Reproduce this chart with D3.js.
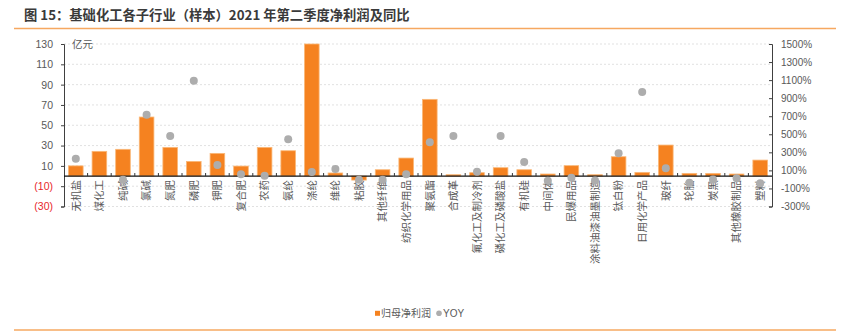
<!DOCTYPE html>
<html><head><meta charset="utf-8">
<script src="https://cdn.jsdelivr.net/npm/d3@7"></script>
<style>
body{margin:0;background:#fff;}
svg{display:block;font-family:"Noto Sans CJK SC","Liberation Sans",Arial,sans-serif;}
</style></head>
<body>
<svg id="chart" width="849" height="334"></svg>
<script>
const categories = ["无机盐","煤化工","纯碱","氯碱","氮肥","磷肥","钾肥","复合肥","农药","氨纶","涤纶","维纶","粘胶","其他纤维","纺织化学用品","聚氨酯","合成革","氟化工及制冷剂","磷化工及磷酸盐","有机硅","中间体","民爆用品","涂料油漆油墨制造","钛白粉","日用化学产品","玻纤","轮胎","炭黑","其他橡胶制品","塑料"];
const profit = [10, 24.3, 26.3, 58.1, 28.2, 14.4, 22.3, 9.8, 28.2, 24.9, 130, 3, -4, 6.2, 17.7, 75.5, 1.3, 3.3, 8.2, 6.2, 2, 10.2, 1.3, 19, 3.6, 30.5, 2.6, 2.6, 2, 15.7];
const yoy = [230, null, -5, 716, 480, 1093, 159, 56, 41, 444, 82, 115, -5, -5, 56, 413, 480, 86, 480, 193, -14, 19, -12, 289, 968, 123, -36, 0, 12, -43];
const leftTicks = [-30, -10, 10, 30, 50, 70, 90, 110, 130];
const rightTicks = [-300, -100, 100, 300, 500, 700, 900, 1100, 1300, 1500];

const svg = d3.select("#chart");
const L = 64, R = 772, T = 44, B = 206.5;
const x = d3.scaleBand().domain(categories).range([L, R]).paddingInner(0.38).paddingOuter(0.19);
const xb = d3.scaleBand().domain(categories).range([L, R]);
const yL = d3.scaleLinear().domain([-30, 130]).range([B, T]);
const yR = d3.scaleLinear().domain([-300, 1500]).range([B, T]);

// title
svg.append("text").attr("x", 24).attr("y", 20).attr("font-size", 13.3).attr("font-weight", "bold")
  .attr("fill", "#3a3a3a").text("图 15：基础化工各子行业（样本）2021 年第二季度净利润及同比");
svg.append("line").attr("x1", 14).attr("x2", 836).attr("y1", 28.5).attr("y2", 28.5)
  .attr("stroke", "#F6A860").attr("stroke-width", 1.3);
svg.append("line").attr("x1", 14).attr("x2", 836).attr("y1", 330).attr("y2", 330)
  .attr("stroke", "#F6A860").attr("stroke-width", 1.3);

// gridlines
svg.append("g").selectAll("line").data(leftTicks).join("line")
  .attr("x1", L).attr("x2", R).attr("y1", d => yL(d)).attr("y2", d => yL(d))
  .attr("stroke", "#d9d9d9").attr("stroke-dasharray", "2,2").attr("stroke-width", 0.8);

// left axis
const fmtL = d => d < 0 ? "(" + Math.abs(d) + ")" : String(d);
const gl = svg.append("g").attr("transform", `translate(${L},0)`)
  .call(d3.axisLeft(yL).tickValues(leftTicks).tickSize(3).tickPadding(8).tickFormat(fmtL));
gl.select(".domain").attr("stroke", "#404040");
gl.selectAll(".tick line").attr("stroke", "#404040");
gl.selectAll(".tick text").attr("font-size", 10.5).attr("fill", d => d < 0 ? "#e8262a" : "#595959")
  .attr("font-family", "'Liberation Sans',Arial,sans-serif");

// right axis
const gr = svg.append("g").attr("transform", `translate(${R},0)`)
  .call(d3.axisRight(yR).tickValues(rightTicks).tickSize(-3).tickPadding(9).tickFormat(d => d + "%"));
gr.select(".domain").attr("stroke", "#404040");
gr.selectAll(".tick line").attr("stroke", "#404040");
gr.selectAll(".tick text").attr("font-size", 10).attr("fill", "#595959")
  .attr("font-family", "'Liberation Sans',Arial,sans-serif");

svg.append("text").attr("x", 72).attr("y", yL(130)).attr("dy", "0.36em").attr("font-size", 10.5)
  .attr("fill", "#595959").text("亿元");

// bars
svg.append("g").selectAll("rect").data(categories).join("rect")
  .attr("x", d => x(d)).attr("width", x.bandwidth())
  .attr("y", (d, i) => yL(Math.max(0, profit[i])))
  .attr("height", (d, i) => Math.abs(yL(profit[i]) - yL(0)))
  .attr("fill", "#F58220").attr("stroke", "#FAB878").attr("stroke-width", 0.8);

// zero line and band ticks
svg.append("line").attr("x1", L).attr("x2", R).attr("y1", yL(0)).attr("y2", yL(0))
  .attr("stroke", "#111").attr("stroke-width", 1.3);
svg.append("g").selectAll("line").data(categories.slice(1)).join("line")
  .attr("x1", d => xb(d)).attr("x2", d => xb(d)).attr("y1", yL(0) - 3).attr("y2", yL(0))
  .attr("stroke", "#333").attr("stroke-width", 1);

// x labels
svg.append("g").selectAll("text").data(categories).join("text")
  .attr("transform", d => `translate(${xb(d) + xb.bandwidth() / 2},${yL(0) + 4}) rotate(-90)`)
  .attr("text-anchor", "end").attr("dy", "0.36em").attr("font-size", 10.5).attr("fill", "#595959")
  .text(d => d);

// dots
svg.append("g").selectAll("circle").data(categories.filter((d, i) => yoy[i] !== null)).join("circle")
  .attr("cx", d => xb(d) + xb.bandwidth() / 2)
  .attr("cy", d => yR(yoy[categories.indexOf(d)]))
  .attr("r", 4).attr("fill", "#ADADAD");

// legend
const lg = svg.append("g");
lg.append("rect").attr("x", 375).attr("y", 310.8).attr("width", 5).attr("height", 5).attr("fill", "#F58220");
lg.append("text").attr("x", 381).attr("y", 313.3).attr("dy", "0.36em").attr("font-size", 10).attr("fill", "#595959").text("归母净利润");
lg.append("circle").attr("cx", 439).attr("cy", 313.3).attr("r", 2.8).attr("fill", "#ADADAD");
lg.append("text").attr("x", 443).attr("y", 313.3).attr("dy", "0.36em").attr("font-size", 10).attr("fill", "#595959")
  .attr("font-family", "'Liberation Sans',Arial,sans-serif").text("YOY");
</script>
</body></html>
